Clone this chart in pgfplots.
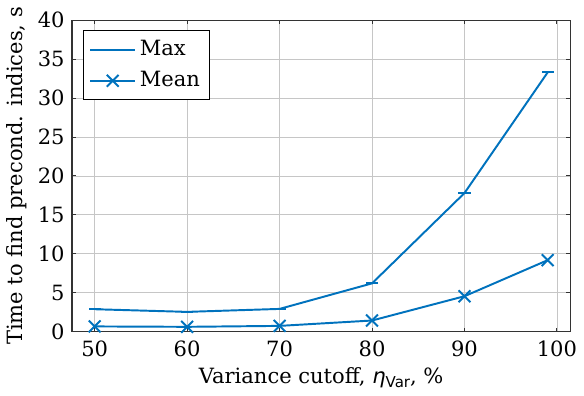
\documentclass[border=0pt]{standalone}
\usepackage{fontspec}
\setmainfont{DejaVu Serif}
\newfontfamily\dvs{DejaVu Sans}
\usepackage{pgfplots}
\pgfplotsset{compat=1.18}
\definecolor{mblue}{RGB}{0,114,189}
\begin{document}
\fontsize{10.8}{13}\selectfont
\begin{tikzpicture}
\begin{axis}[
  width=256pt, height=160pt, scale only axis,
  xmin=47.55, xmax=101.45, ymin=0, ymax=40,
  xtick={50,60,70,80,90,100},
  ytick={0,5,10,15,20,25,30,35,40},
  tick align=inside, tick pos=both,
  major tick length=2pt,
  grid=major,
  grid style={gray!45, line width=0.4pt},
  axis line style={line width=0.6pt, black!80},
  every tick/.style={black!80, line width=0.5pt},
  /pgf/number format/assume math mode=true,
  tick label style={font=\fontsize{10.8}{13}\selectfont},
  xticklabel style={yshift=-1.2pt},
  label style={font=\fontsize{10.8}{13}\selectfont},
  xlabel={Variance cutoff, {\dvs\itshape η}\raisebox{-0.35ex}{\dvs\fontsize{7.7}{9}\selectfont Var}, \%},
  ylabel={Time to find precond. indices, s},
  xlabel style={yshift=2pt},
  ylabel style={yshift=-2pt},
  legend style={at={(0.022,0.968)}, anchor=north west, draw=black, line width=0.5pt,
    font=\fontsize{10.8}{13}\selectfont, inner xsep=3pt, inner ysep=3pt, row sep=2.5pt,
    cells={anchor=west}},
  legend image code/.code={\draw[mark repeat=2, mark phase=2, #1] plot coordinates {(0pt,0pt) (11.5pt,0pt) (23pt,0pt)};},
  legend cell align=left,
]
\addplot[mblue, line width=1pt, mark=-, mark size=3.1pt, mark options={line width=1pt}] coordinates {
(50,2.88) (60,2.54) (70,2.92) (80,6.2) (90,17.8) (99,33.3)};
\addlegendentry{Max}
\addplot[mblue, line width=1pt, mark=x, mark size=4.3pt, mark options={line width=1pt}] coordinates {
(50,0.67) (60,0.62) (70,0.74) (80,1.43) (90,4.55) (99,9.18)};
\addlegendentry{Mean}
\end{axis}
\end{tikzpicture}
\end{document}
